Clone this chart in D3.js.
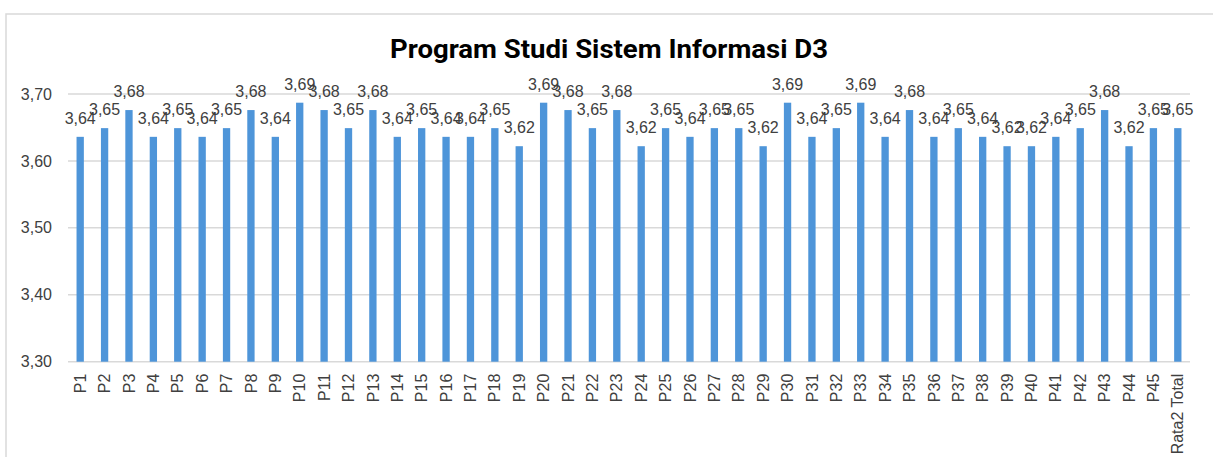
<!DOCTYPE html>
<html>
<head>
<meta charset="utf-8">
<script src="https://cdn.jsdelivr.net/npm/d3@7"></script>
<style>
  html, body { margin: 0; padding: 0; background: #fff; }
  svg { display: block; }
</style>
</head>
<body>
<svg id="chart" width="1213" height="457"></svg>
<script>
const title = "Program Studi Sistem Informasi D3";
const categories = ["P1","P2","P3","P4","P5","P6","P7","P8","P9","P10",
  "P11","P12","P13","P14","P15","P16","P17","P18","P19","P20",
  "P21","P22","P23","P24","P25","P26","P27","P28","P29","P30",
  "P31","P32","P33","P34","P35","P36","P37","P38","P39","P40",
  "P41","P42","P43","P44","P45","Rata2 Total"];
const values = [3.636,3.649,3.676,3.636,3.649,3.636,3.649,3.676,3.636,3.687,
  3.676,3.649,3.676,3.636,3.649,3.636,3.636,3.649,3.622,3.687,
  3.676,3.649,3.676,3.622,3.649,3.636,3.649,3.649,3.622,3.687,
  3.636,3.649,3.687,3.636,3.676,3.636,3.649,3.636,3.622,3.622,
  3.636,3.649,3.676,3.622,3.649,3.649];
const yTicks = [3.30, 3.40, 3.50, 3.60, 3.70];
const yDomain = [3.30, 3.70];

(function () {
const svg = d3.select("#chart");
const fmt = v => v.toFixed(2).replace(".", ",");
const font = "'Liberation Sans', Arial, sans-serif";

// chart frame
svg.append("rect").attr("x", 6).attr("y", 14).attr("width", 1400).attr("height", 600)
  .attr("fill", "#fff").attr("stroke", "#d9d9d9").attr("stroke-width", 1.5);

const pLeft = 68, pRight = 1190, pTop = 94, pBottom = 361.7;
const x = d3.scaleBand().domain(categories).range([pLeft, pRight]).paddingInner(0.7).paddingOuter(0.35);
const y = d3.scaleLinear().domain(yDomain).range([pBottom, pTop]);

// gridlines
svg.append("g").selectAll("line").data(yTicks).join("line")
  .attr("x1", pLeft).attr("x2", pRight)
  .attr("y1", d => y(d)).attr("y2", d => y(d))
  .attr("stroke", "#d9d9d9").attr("stroke-width", 1.5);

// y axis labels
const yAxis = d3.axisLeft(y).tickValues(yTicks).tickFormat(fmt).tickSize(0).tickPadding(16);
const ya = svg.append("g").attr("transform", `translate(${pLeft},0)`).call(yAxis);
ya.select(".domain").remove();
ya.selectAll("text").attr("font-family", font).attr("font-size", 16).attr("fill", "#404040");

// bars
svg.append("g").selectAll("rect").data(categories).join("rect")
  .attr("x", d => x(d)).attr("width", x.bandwidth())
  .attr("y", (d, i) => y(values[i]))
  .attr("height", (d, i) => y(yDomain[0]) - y(values[i]))
  .attr("fill", "#4e95d9");

// data labels
svg.append("g").selectAll("text").data(categories).join("text")
  .attr("x", d => x(d) + x.bandwidth() / 2)
  .attr("y", (d, i) => y(values[i]) - 13)
  .attr("text-anchor", "middle")
  .attr("font-family", font).attr("font-size", 16).attr("fill", "#404040")
  .text((d, i) => fmt(values[i]));

// x axis labels
const xAxis = d3.axisBottom(x).tickSize(0).tickPadding(0);
const xa = svg.append("g").attr("transform", `translate(0,${pBottom})`).call(xAxis);
xa.select(".domain").remove();
xa.selectAll("text")
  .attr("font-family", font).attr("font-size", 16).attr("fill", "#404040")
  .attr("text-anchor", "end")
  .attr("transform", "translate(0,12) rotate(-90)")
  .attr("x", 0).attr("y", 0).attr("dy", "0.35em");

// title
svg.append("text").attr("x", 609).attr("y", 57.5).attr("text-anchor", "middle")
  .attr("font-family", "Roboto, 'Open Sans', sans-serif").attr("font-weight", "bold")
  .attr("font-size", 26).attr("fill", "#000")
  .attr("textLength", 438).attr("lengthAdjust", "spacingAndGlyphs")
  .text(title);
})();
</script>
</body>
</html>
